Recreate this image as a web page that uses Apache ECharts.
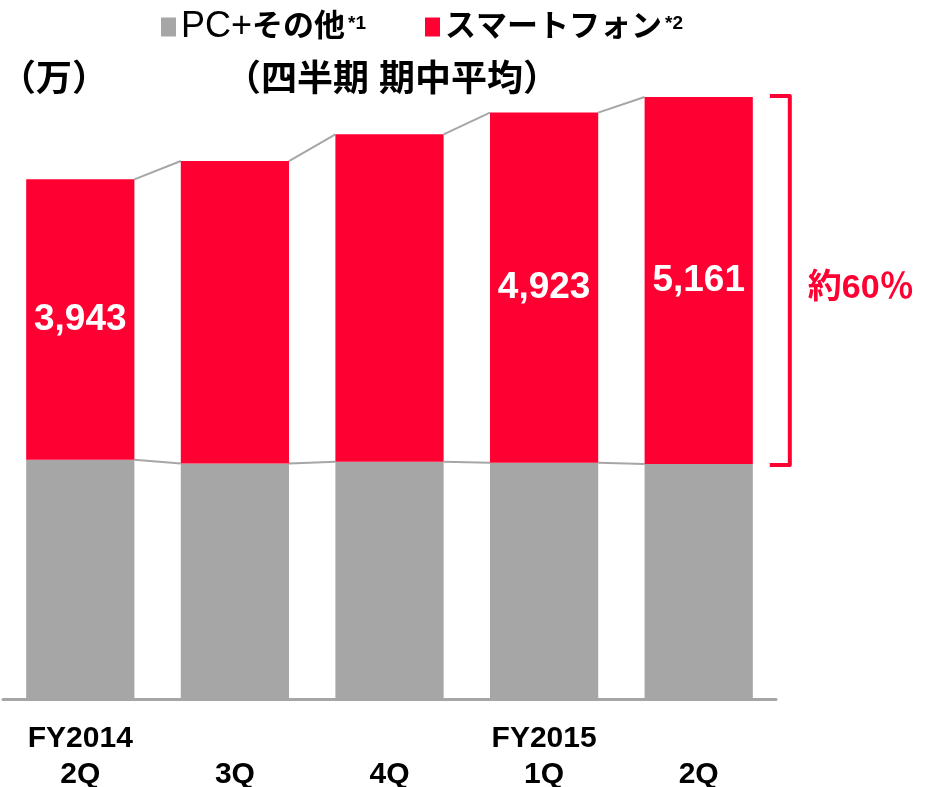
<!DOCTYPE html>
<html>
<head>
<meta charset="utf-8">
<script src="https://cdn.jsdelivr.net/npm/echarts@6/dist/echarts.min.js"></script>
<style>
  html, body { margin: 0; padding: 0; background: #fff; }
  #chart { width: 927px; height: 787px; }
</style>
</head>
<body>
<div id="chart"></div>
<script>
const categories = ['FY2014\n2Q', '\n3Q', '\n4Q', 'FY2015\n1Q', '\n2Q']
const pcValues = [3365, 3313, 3337, 3323, 3305]
const phoneValues = [3943, 4252, 4604, 4923, 5161]
const labelShown = [true, false, false, true, true]

const RED = '#FF0033'
const GRAY = '#A6A6A6'
const FONT = '"Liberation Sans", Arial, "Noto Sans CJK JP", sans-serif'

const totals = pcValues.map((v, i) => v + phoneValues[i])
// connector segments between neighbouring bars
const links = []
for (let i = 0; i < categories.length - 1; i++) {
  links.push([i, pcValues[i], totals[i], pcValues[i + 1], totals[i + 1]])
}
const last = categories.length - 1

const chart = echarts.init(document.getElementById('chart'))

const titleStyle = { fontFamily: FONT, fontSize: 36, fontWeight: 'bold', color: '#000' }

const option = {
  animation: false,
  grid: { left: 3, right: 151, top: 59, bottom: 88, outerBoundsMode: 'none' },
  title: [
    { text: '（万）', left: -5, top: 58, textStyle: titleStyle },
    { text: '（四半期 期中平均）', left: 220, top: 58, textStyle: titleStyle }
  ],
  legend: {
    left: 156,
    top: 4,
    icon: 'rect',
    itemWidth: 15,
    itemHeight: 19,
    itemGap: 59,
    data: ['PC+その他', 'スマートフォン'],
    formatter: name => name === 'PC+その他' ? '{n|PC+}{b|その他}{s|*1}' : '{b|スマートフォン}{s|*2}',
    textStyle: {
      rich: {
        n: { fontFamily: FONT, fontSize: 36, color: '#000' },
        b: { fontFamily: FONT, fontSize: 31, fontWeight: 'bold', color: '#000' },
        s: { fontFamily: FONT, fontSize: 19, fontWeight: 'bold', color: '#000', padding: [0, 0, 6, 3] }
      }
    }
  },
  xAxis: {
    type: 'category',
    data: categories,
    axisLine: { lineStyle: { color: GRAY, width: 3 } },
    axisTick: { show: false },
    axisLabel: {
      margin: 22,
      fontFamily: FONT,
      fontSize: 30,
      fontWeight: 'bold',
      color: '#000',
      lineHeight: 36
    }
  },
  yAxis: { type: 'value', min: 0, max: 9000, show: false },
  series: [
    {
      name: 'PC+その他',
      type: 'bar',
      stack: 'all',
      barWidth: '70%',
      itemStyle: { color: GRAY },
      data: pcValues
    },
    {
      name: 'スマートフォン',
      type: 'bar',
      stack: 'all',
      barWidth: '70%',
      itemStyle: { color: RED },
      label: {
        position: 'inside',
        color: '#fff',
        fontFamily: FONT,
        fontSize: 37,
        fontWeight: 'bold',
        formatter: p => p.value.toLocaleString('en-US')
      },
      data: phoneValues.map((v, i) => ({ value: v, label: { show: labelShown[i] } }))
    },
    {
      type: 'custom',
      clip: false,
      silent: true,
      data: links,
      renderItem: (params, api) => {
        const i = api.value(0)
        const half = api.size([1, 0])[0] * 0.35
        const g1 = api.coord([i, api.value(1)])
        const t1 = api.coord([i, api.value(2)])
        const g2 = api.coord([i + 1, api.value(3)])
        const t2 = api.coord([i + 1, api.value(4)])
        const style = { stroke: GRAY, lineWidth: 2, fill: null }
        return {
          type: 'group',
          children: [
            { type: 'line', shape: { x1: t1[0] + half, y1: t1[1], x2: t2[0] - half, y2: t2[1] }, style },
            { type: 'line', shape: { x1: g1[0] + half, y1: g1[1], x2: g2[0] - half, y2: g2[1] }, style }
          ]
        }
      }
    },
    {
      type: 'custom',
      clip: false,
      silent: true,
      data: [[last, pcValues[last], totals[last]]],
      renderItem: (params, api) => {
        const i = api.value(0)
        const half = api.size([1, 0])[0] * 0.35
        const g = api.coord([i, api.value(1)])
        const t = api.coord([i, api.value(2)])
        const x0 = g[0] + half + 17
        const x1 = g[0] + half + 37
        return {
          type: 'group',
          children: [
            {
              type: 'polyline',
              shape: { points: [[x0, t[1] - 1], [x1, t[1] - 1], [x1, g[1] + 1], [x0, g[1] + 1]] },
              style: { stroke: RED, lineWidth: 4, fill: null, lineJoin: 'round' }
            },
            {
              type: 'text',
              style: {
                x: x1 + 18, y: (t[1] + g[1]) / 2 + 8,
                text: '約60％',
                fill: RED,
                font: 'bold 34px "Liberation Sans", Arial, "Noto Sans CJK JP", sans-serif',
                textVerticalAlign: 'middle'
              }
            }
          ]
        }
      }
    }
  ]
}

chart.setOption(option)
</script>
</body>
</html>
